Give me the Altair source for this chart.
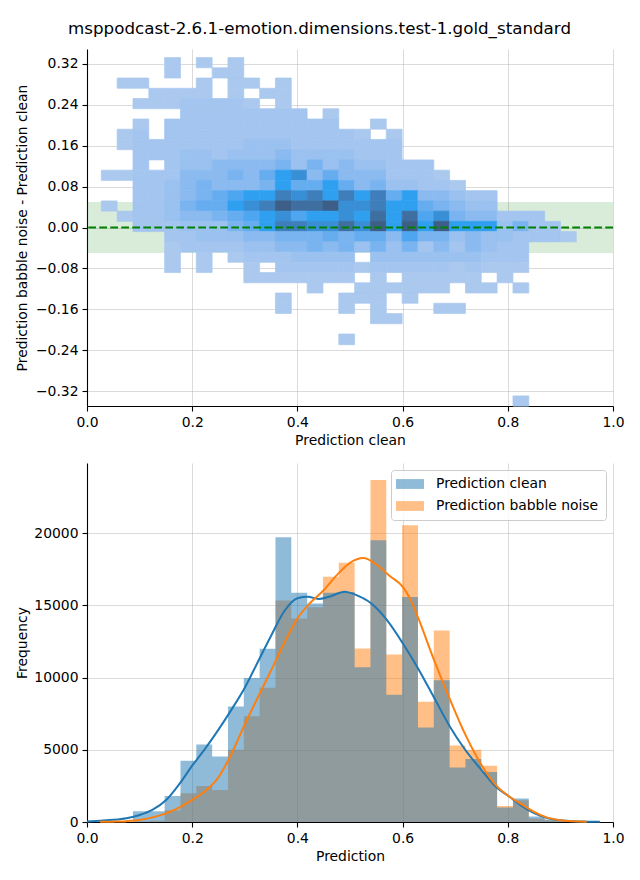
import altair as alt
import pandas as pd

TITLE = "msppodcast-2.6.1-emotion.dimensions.test-1.gold_standard"
FONT = "DejaVu Sans"

# shared bin edges of "Prediction clean" (x) used by both panels
x_edges = [0.0272, 0.0573, 0.0874, 0.1175, 0.1476, 0.1777, 0.2078, 0.2379, 0.2680, 0.2981,
           0.3282, 0.3583, 0.3884, 0.4185, 0.4486, 0.4787, 0.5088, 0.5389, 0.5690, 0.5991,
           0.6292, 0.6593, 0.6894, 0.7195, 0.7496, 0.7797, 0.8098, 0.8399, 0.8700, 0.9001,
           0.9302]
# bin edges of the difference (babble - clean)
y_edges = [-0.349, -0.329, -0.309, -0.289, -0.269, -0.249, -0.229, -0.208, -0.188, -0.168,
           -0.148, -0.128, -0.108, -0.088, -0.068, -0.048, -0.028, -0.008, 0.012, 0.032,
           0.052, 0.072, 0.092, 0.112, 0.132, 0.152, 0.172, 0.192, 0.212, 0.232,
           0.252, 0.272, 0.292, 0.312, 0.332]

# 2-D histogram shade level (0 = empty), top row (highest y bin) first
heat_rows = [
    [0,0,0,0,1,0,1,0,1,0, 0,0,0,0,0,0,0,0,0,0, 0,0,0,0,0,0,0,0,0,0],
    [0,0,0,0,1,0,0,1,1,0, 0,0,0,0,0,0,0,0,0,0, 0,0,0,0,0,0,0,0,0,0],
    [0,1,1,0,0,0,1,0,1,1, 0,1,0,0,0,0,0,0,0,0, 0,0,0,0,0,0,0,0,0,0],
    [0,0,0,1,1,1,1,0,1,0, 1,1,0,0,0,0,0,0,0,0, 0,0,0,0,0,0,0,0,0,0],
    [0,0,1,1,1,2,2,2,2,1, 0,1,0,0,0,0,0,0,0,0, 0,0,0,0,0,0,0,0,0,0],
    [0,0,0,0,0,2,2,2,2,2, 2,2,2,0,1,0,0,0,0,0, 0,0,0,0,0,0,0,0,0,0],
    [0,0,1,0,2,2,2,2,2,2, 2,2,2,2,2,0,0,1,0,0, 0,0,0,0,0,0,0,0,0,0],
    [0,1,2,0,2,2,2,2,2,2, 2,2,2,2,2,2,1,0,1,0, 0,0,0,0,0,0,0,0,0,0],
    [0,1,2,2,2,2,2,2,2,3, 3,3,2,2,2,2,2,2,2,0, 0,0,0,0,0,0,0,0,0,0],
    [0,0,2,2,2,3,3,2,3,3, 3,4,3,3,3,3,2,2,2,0, 0,0,0,0,0,0,0,0,0,0],
    [0,0,2,0,2,3,3,4,4,4, 4,5,3,5,3,4,3,3,2,2, 2,0,0,0,0,0,0,0,0,0],
    [1,1,2,2,2,4,4,4,5,4, 6,8,9,4,6,4,4,4,2,2, 2,1,0,0,0,0,0,0,0,0],
    [0,0,2,2,3,4,5,4,4,4, 5,8,6,6,8,6,4,5,3,3, 2,2,1,0,0,0,0,0,0,0],
    [0,0,2,2,3,4,5,6,7,8, 8,10,9,10,8,10,8,10,6,8, 4,4,3,2,2,0,0,0,0,0],
    [1,0,2,2,3,5,6,6,8,9, 10,12,11,11,12,9,9,10,8,8, 6,5,4,3,3,0,0,0,0,0],
    [0,1,2,2,3,4,4,5,6,7, 8,9,7,8,8,9,8,11,8,11, 7,9,5,4,4,2,2,2,0,0],
    [0,0,2,2,2,3,3,3,5,6, 8,10,10,9,9,11,9,12,8,12, 8,12,8,8,8,3,5,2,2,0],
    [0,0,0,0,2,2,3,3,3,4, 4,5,5,5,6,5,6,6,4,7, 5,5,3,4,3,3,2,2,2,1],
    [0,0,0,0,1,2,2,2,2,3, 3,4,4,5,4,5,3,5,3,5, 2,4,2,4,3,2,2,0,0,0],
    [0,0,0,0,1,0,1,0,1,2, 2,2,3,3,3,3,0,3,3,3, 3,3,3,3,2,2,2,0,0,0],
    [0,0,0,0,1,0,1,0,0,1, 0,2,2,2,2,2,1,2,2,2, 2,2,1,2,1,1,1,0,0,0],
    [0,0,0,0,0,0,0,0,0,1, 1,1,1,1,1,1,0,1,0,1, 1,1,1,1,0,1,0,0,0,0],
    [0,0,0,0,0,0,0,0,0,0, 0,0,0,1,0,0,1,1,1,1, 1,1,0,1,1,0,1,0,0,0],
    [0,0,0,0,0,0,0,0,0,0, 0,1,0,0,0,1,1,1,0,1, 0,0,0,0,0,0,0,0,0,0],
    [0,0,0,0,0,0,0,0,0,0, 0,1,0,0,0,1,0,1,0,0, 0,1,1,0,0,0,0,0,0,0],
    [0,0,0,0,0,0,0,0,0,0, 0,0,0,0,0,0,0,1,1,0, 0,0,0,0,0,0,0,0,0,0],
    [0,0,0,0,0,0,0,0,0,0, 0,0,0,0,0,0,0,0,0,0, 0,0,0,0,0,0,0,0,0,0],
    [0,0,0,0,0,0,0,0,0,0, 0,0,0,0,0,1,0,0,0,0, 0,0,0,0,0,0,0,0,0,0],
    [0,0,0,0,0,0,0,0,0,0, 0,0,0,0,0,0,0,0,0,0, 0,0,0,0,0,0,0,0,0,0],
    [0,0,0,0,0,0,0,0,0,0, 0,0,0,0,0,0,0,0,0,0, 0,0,0,0,0,0,0,0,0,0],
    [0,0,0,0,0,0,0,0,0,0, 0,0,0,0,0,0,0,0,0,0, 0,0,0,0,0,0,0,0,0,0],
    [0,0,0,0,0,0,0,0,0,0, 0,0,0,0,0,0,0,0,0,0, 0,0,0,0,0,0,0,0,0,0],
    [0,0,0,0,0,0,0,0,0,0, 0,0,0,0,0,0,0,0,0,0, 0,0,0,0,0,0,0,0,0,0],
    [0,0,0,0,0,0,0,0,0,0, 0,0,0,0,0,0,0,0,0,0, 0,0,0,0,0,0,1,0,0,0],
]
heat_levels = [1, 3, 8, 12]
heat_colors = ["#abc9ee", "#9ac1ef", "#2fa0f0", "#3d5e86"]

band_half = 0.05

# 1-D histograms (counts per bin)
clean_counts = [3, 8, 750, 750, 1800, 4250, 5370, 4530, 8000, 9980,
                12000, 19720, 15880, 15140, 15880, 15930, 10720, 19520, 8820, 15580,
                6550, 9820, 3780, 4370, 3470, 1000, 1630, 380, 165, 50]
babble_counts = [0, 2, 40, 80, 820, 2000, 2500, 2220, 5000, 7330,
                 9300, 15350, 14100, 14880, 16990, 17960, 12020, 23680, 11600, 20560,
                 8330, 13270, 5300, 5000, 3890, 1110, 1510, 240, 120, 30]

kde_clean_x = [0.0, 0.025, 0.05, 0.075, 0.1, 0.125, 0.15, 0.175, 0.2, 0.225, 0.25, 0.275,
               0.3, 0.325, 0.35, 0.375, 0.4, 0.42, 0.44, 0.46, 0.49, 0.51, 0.54, 0.57, 0.6,
               0.63, 0.66, 0.69, 0.72, 0.75, 0.78, 0.8, 0.825, 0.85, 0.875, 0.9, 0.925, 0.95, 0.975]
kde_clean_y = [40, 90, 150, 260, 480, 850, 1500, 2600, 3900, 5100, 6400, 7800,
               9300, 11100, 12900, 14600, 15500, 15600, 15450, 15600, 15950, 15750, 15150, 14000, 12400,
               10600, 8600, 6600, 4950, 3600, 2350, 1840, 1150, 620, 280, 120, 50, 25, 15]
kde_babble_x = [0.025, 0.05, 0.075, 0.1, 0.125, 0.15, 0.175, 0.2, 0.225, 0.25, 0.275, 0.3,
                0.325, 0.35, 0.375, 0.4, 0.425, 0.45, 0.475, 0.5, 0.525, 0.55, 0.575, 0.6,
                0.615, 0.63, 0.66, 0.69, 0.72, 0.75, 0.78, 0.8, 0.825, 0.85, 0.875, 0.9, 0.925, 0.95]
kde_babble_y = [10, 25, 60, 140, 320, 600, 1000, 1530, 2150, 3100, 4750, 6750,
                8650, 10500, 12400, 14100, 15200, 16050, 17100, 17950, 18280, 17850, 17050, 16300,
                15400, 14100, 11200, 8500, 6000, 3950, 2450, 1840, 1250, 700, 300, 120, 50, 20]

SERIES = ["Prediction clean", "Prediction babble noise"]
COLORS = ["#1f77b4", "#ff7f0e"]

# ---------- data frames ----------
n_rows = len(heat_rows)
cells = []
for r, row in enumerate(heat_rows):
    k = n_rows - 1 - r
    for j, v in enumerate(row):
        if v > 0:
            cells.append({"x0": x_edges[j], "x1": x_edges[j + 1],
                          "y0": y_edges[k], "y1": y_edges[k + 1], "level": v})
heat_df = pd.DataFrame(cells)
band_df = pd.DataFrame({"y0": [-band_half], "y1": [band_half]})

# step outlines of the histograms (each bin's count held until the next edge)
steps = []
for name, counts in [(SERIES[1], babble_counts), (SERIES[0], clean_counts)]:
    held = counts + [counts[-1]]
    for e, c in zip(x_edges, held):
        steps.append({"x0": e, "count": c, "series": name})
steps_df = pd.DataFrame(steps)
kde_clean_df = pd.DataFrame({"x0": kde_clean_x, "count": kde_clean_y})
kde_babble_df = pd.DataFrame({"x0": kde_babble_x, "count": kde_babble_y})

# ---------- shared encodings ----------
W = 526
x_top = alt.X("x0:Q", scale=alt.Scale(domain=[0, 1], nice=False, zero=False),
              axis=alt.Axis(title="Prediction clean", values=[0, 0.2, 0.4, 0.6, 0.8, 1.0],
                            format=".1f"))
y_top = alt.Y("y0:Q", scale=alt.Scale(domain=[-0.3487, 0.3487], nice=False, zero=False),
              axis=alt.Axis(title="Prediction babble noise - Prediction clean",
                            values=[-0.32, -0.24, -0.16, -0.08, 0, 0.08, 0.16, 0.24, 0.32],
                            format=".2f"))
heat_scale = alt.Scale(domain=heat_levels, range=heat_colors)

band = alt.Chart(band_df).mark_rect(color="green", opacity=0.15).encode(
    x=alt.value(0), x2=alt.value("width"), y=y_top, y2="y1:Q")
heat = alt.Chart(heat_df).mark_rect(strokeWidth=0.7).encode(
    x=x_top, x2="x1:Q", y=y_top, y2="y1:Q",
    color=alt.Color("level:Q", scale=heat_scale, legend=None),
    stroke=alt.Stroke("level:Q", scale=heat_scale, legend=None))
zero_line = alt.Chart(band_df).mark_rule(color="green", strokeDash=[7.7, 3.3],
                                         strokeWidth=2).encode(y=alt.datum(0))
top = alt.layer(band, heat, zero_line).properties(width=W, height=357)

x_bot = alt.X("x0:Q", scale=alt.Scale(domain=[0, 1], nice=False, zero=False),
              axis=alt.Axis(title="Prediction", values=[0, 0.2, 0.4, 0.6, 0.8, 1.0],
                            format=".1f"))
y_bot = alt.Y("count:Q", stack=None, scale=alt.Scale(domain=[0, 24866], nice=False),
              axis=alt.Axis(title="Frequency", values=[0, 5000, 10000, 15000, 20000],
                            format="d"))
hist = alt.Chart(steps_df).mark_area(opacity=0.5, interpolate="step-after").encode(
    x=x_bot, y=y_bot, y2=alt.datum(0),
    color=alt.Color("series:N", scale=alt.Scale(domain=SERIES, range=COLORS),
                    legend=alt.Legend(title=None, orient="top-right", offset=7,
                                      labelLimit=400)))
kde_c = alt.Chart(kde_clean_df).mark_line(color=COLORS[0], strokeWidth=2,
                                          interpolate="monotone").encode(x=x_bot, y=y_bot)
kde_b = alt.Chart(kde_babble_df).mark_line(color=COLORS[1], strokeWidth=2,
                                           interpolate="monotone").encode(x=x_bot, y=y_bot)
bottom = alt.layer(hist, kde_c, kde_b).properties(width=W, height=359)

chart = alt.vconcat(top, bottom, spacing=15).properties(
    title=alt.TitleParams(TITLE, fontSize=16.7, fontWeight="normal", font=FONT,
                          color="black", anchor="middle", offset=11),
    padding={"left": 7, "top": 13, "right": 5, "bottom": 5},
).configure(font=FONT).configure_view(strokeWidth=0).configure_axis(
    labelFont=FONT, titleFont=FONT, labelFontSize=13.9, titleFontSize=13.9,
    titleFontWeight="normal", labelColor="black", titleColor="black",
    domainColor="black", domainWidth=1.1, tickColor="black", tickWidth=1.1, tickSize=5,
    labelPadding=4, gridColor="#b0b0b0", gridOpacity=0.45, gridWidth=1, zindex=1,
    labelFlush=False,
).configure_axisY(minExtent=53, maxExtent=53, titlePadding=5).configure_axisX(
    titlePadding=5).configure_legend(
    labelFont=FONT, labelFontSize=13.9, labelColor="black",
    symbolType="M-2,-0.7H2V0.7H-2Z", symbolSize=196, symbolOpacity=0.5,
    symbolStrokeWidth=0, fillColor="rgba(255,255,255,0.8)", strokeColor="#cccccc",
    cornerRadius=3, padding=7, rowPadding=8, labelOffset=19, symbolOffset=5,
)

chart.save("out.html", embed_options={"renderer": "svg", "actions": False})
